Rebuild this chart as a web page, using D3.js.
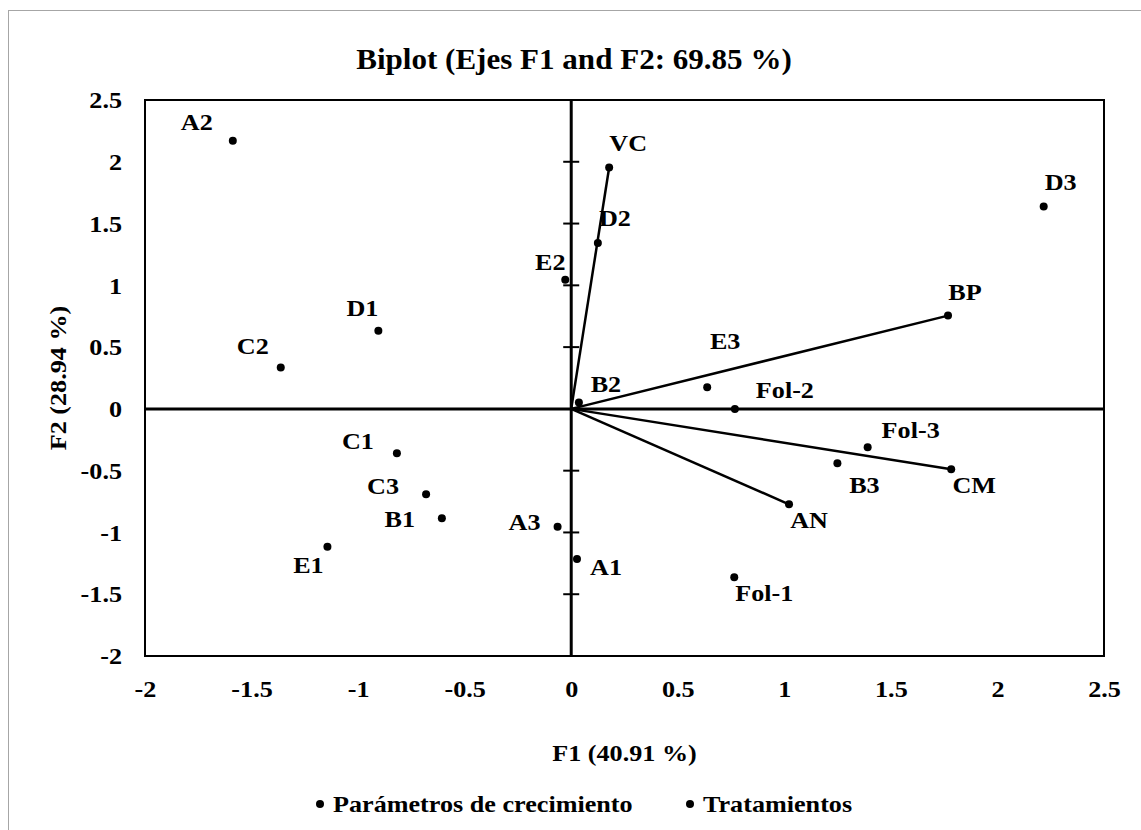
<!DOCTYPE html>
<meta charset="utf-8">
<style>
body { margin: 0; background: #fff; }
svg text { font-family: "Liberation Serif", "Times New Roman", serif; font-weight: bold; fill: #000; }
</style>
<body>
<script src="https://d3js.org/d3.v7.min.js"></script>
<svg id="chart" width="1141" height="830"></svg>
<script>

// growth parameters (drawn as vectors from the origin)
var paramNames = ["VC", "BP", "CM", "AN"];
var paramF1 = [0.178, 1.768, 1.783, 1.022];
var paramF2 = [1.954, 0.755, -0.488, -0.772];

// treatments
var treatNames = ["A1", "A2", "A3", "B1", "B2", "B3", "C1", "C2", "C3", "D1", "D2", "D3",
                  "E1", "E2", "E3", "Fol-1", "Fol-2", "Fol-3"];
var treatF1 = [0.027, -1.588, -0.064, -0.607, 0.036, 1.249, -0.818, -1.363, -0.681, -0.905, 0.125, 2.217,
               -1.144, -0.028, 0.638, 0.765, 0.768, 1.391];
var treatF2 = [-1.215, 2.17, -0.953, -0.885, 0.051, -0.44, -0.359, 0.335, -0.691, 0.632, 1.342, 1.638,
               -1.115, 1.045, 0.176, -1.363, 0.0, -0.31];

var xTicks = [-2, -1.5, -1, -0.5, 0, 0.5, 1, 1.5, 2, 2.5];
var yTicks = [-2, -1.5, -1, -0.5, 0, 0.5, 1, 1.5, 2, 2.5];
var seriesNames = ["Parámetros de crecimiento", "Tratamientos"];

// label placement (offset from the point, px)
var labelOffset = {
  "VC": [19, -25], "BP": [17, -24], "CM": [23, 16], "AN": [20, 16],
  "A1": [29, 8], "A2": [-36, -19], "A3": [-33, -5], "B1": [-42, 1], "B2": [27, -19],
  "B3": [27, 22], "C1": [-39, -12], "C2": [-28, -22], "C3": [-43, -8], "D1": [-16, -23],
  "D2": [17, -25], "D3": [17, -25], "E1": [-19, 18], "E2": [-15, -18], "E3": [18, -46],
  "Fol-1": [30, 16], "Fol-2": [50, -19], "Fol-3": [43, -17]
};

var svg = d3.select("#chart");

var x = d3.scaleLinear().domain([-2, 2.5]).range([145, 1104]);
var y = d3.scaleLinear().domain([-2, 2.5]).range([656, 100]);

// the source text is a little wider than Times, so stretch it
function stretch(sel) {
  sel.attr("transform", function() {
      var t = d3.select(this);
      return "translate(" + (+t.attr("x") || 0) + "," + (+t.attr("y") || 0) + ") scale(1.09,1)";
    })
    .attr("x", 0)
    .attr("y", 0);
}

// chart area border
svg.append("rect")
    .attr("x", 8.5).attr("y", 10.5)
    .attr("width", 1200).attr("height", 1000)
    .attr("fill", "none")
    .attr("stroke", "#a6a6a6")
    .attr("stroke-width", 1);

svg.append("text")
    .attr("x", 574).attr("y", 69)
    .attr("text-anchor", "middle")
    .attr("font-size", 28.5)
    .text("Biplot (Ejes F1 and F2: 69.85 %)")
    .call(stretch);

// plot box
svg.append("rect")
    .attr("x", x(-2)).attr("y", y(2.5))
    .attr("width", x(2.5) - x(-2)).attr("height", y(-2) - y(2.5))
    .attr("fill", "none")
    .attr("stroke", "#000")
    .attr("stroke-width", 2);

// tick labels
svg.append("g")
    .attr("transform", "translate(" + x(-2) + ",0)")
    .call(d3.axisLeft(y).tickValues(yTicks).tickSize(0).tickPadding(23)
        .tickFormat(function(d) { return String(d); }))
    .call(function(g) { g.select(".domain").remove(); })
    .selectAll("text")
    .attr("font-size", 24)
    .attr("font-family", "Liberation Serif")
    .attr("font-weight", "bold")
    .call(stretch);

svg.append("g")
    .attr("transform", "translate(0," + y(-2) + ")")
    .call(d3.axisBottom(x).tickValues(xTicks).tickSize(0).tickPadding(24)
        .tickFormat(function(d) { return String(d); }))
    .call(function(g) { g.select(".domain").remove(); })
    .selectAll("text")
    .attr("font-size", 24)
    .attr("font-family", "Liberation Serif")
    .attr("font-weight", "bold")
    .call(stretch);

// zero lines
svg.append("line")
    .attr("x1", x(-2)).attr("x2", x(2.5))
    .attr("y1", y(0)).attr("y2", y(0))
    .attr("stroke", "#000").attr("stroke-width", 3);

svg.append("line")
    .attr("x1", x(0)).attr("x2", x(0))
    .attr("y1", y(2.5)).attr("y2", y(-2))
    .attr("stroke", "#000").attr("stroke-width", 3);

// cross ticks on the vertical zero axis
svg.append("g")
  .selectAll("line")
  .data(yTicks.filter(function(d) { return d > -2 && d < 2.5 && d !== 0; }))
  .enter().append("line")
    .attr("x1", x(0) - 8).attr("x2", x(0) + 8)
    .attr("y1", function(d) { return y(d); })
    .attr("y2", function(d) { return y(d); })
    .attr("stroke", "#000").attr("stroke-width", 2);

// axis titles
svg.append("text")
    .attr("x", (x(-2) + x(2.5)) / 2).attr("y", 761)
    .attr("text-anchor", "middle")
    .attr("font-size", 24)
    .text("F1 (40.91 %)")
    .call(stretch);

svg.append("text")
    .attr("transform", "translate(66," + (y(2.5) + y(-2)) / 2 + ") rotate(-90) scale(1.09,1)")
    .attr("text-anchor", "middle")
    .attr("font-size", 24)
    .text("F2 (28.94 %)");

var params = paramNames.map(function(n, i) { return { name: n, f1: paramF1[i], f2: paramF2[i] }; });
var treats = treatNames.map(function(n, i) { return { name: n, f1: treatF1[i], f2: treatF2[i] }; });
var all = params.concat(treats);

// vectors
svg.append("g")
  .selectAll("line")
  .data(params)
  .enter().append("line")
    .attr("x1", x(0)).attr("y1", y(0))
    .attr("x2", function(d) { return x(d.f1); })
    .attr("y2", function(d) { return y(d.f2); })
    .attr("stroke", "#000").attr("stroke-width", 2.5);

// points
svg.append("g")
  .selectAll("circle")
  .data(all)
  .enter().append("circle")
    .attr("cx", function(d) { return x(d.f1); })
    .attr("cy", function(d) { return y(d.f2); })
    .attr("r", 4)
    .attr("fill", "#000");

// point labels
svg.append("g")
  .selectAll("text")
  .data(all)
  .enter().append("text")
    .attr("x", function(d) { return x(d.f1) + labelOffset[d.name][0]; })
    .attr("y", function(d) { return y(d.f2) + labelOffset[d.name][1]; })
    .attr("dy", "0.34em")
    .attr("text-anchor", "middle")
    .attr("font-size", 24)
    .text(function(d) { return d.name; })
    .call(stretch);

// legend
var legend = svg.append("g").attr("transform", "translate(0,804)");
var legendX = [320, 690];

legend.selectAll("circle")
  .data(seriesNames)
  .enter().append("circle")
    .attr("cx", function(d, i) { return legendX[i]; })
    .attr("cy", 0)
    .attr("r", 4)
    .attr("fill", "#000");

legend.selectAll("text")
  .data(seriesNames)
  .enter().append("text")
    .attr("x", function(d, i) { return legendX[i] + 13; })
    .attr("y", 0)
    .attr("dy", "0.34em")
    .attr("font-size", 24)
    .text(function(d) { return d; })
    .call(stretch);

</script>
</body>
